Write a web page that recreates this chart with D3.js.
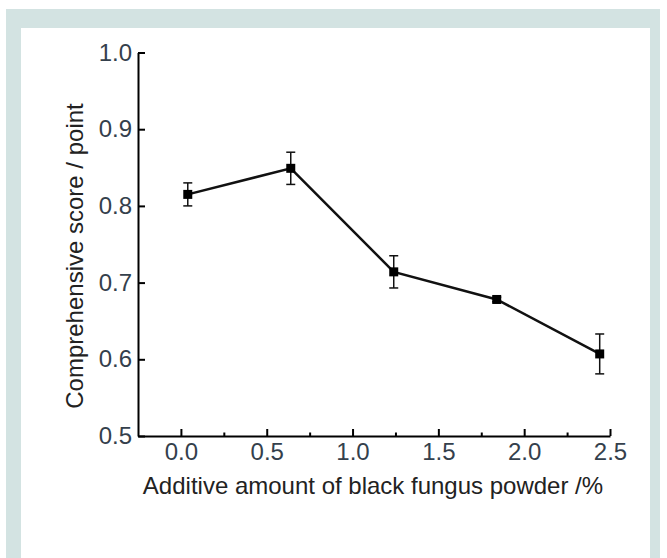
<!DOCTYPE html>
<html>
<head>
<meta charset="utf-8">
<script src="https://cdn.jsdelivr.net/npm/d3@7"></script>
<style>
  body { margin: 0; background: #fff; }
  svg { display: block; font-family: "Liberation Sans", Arial, sans-serif; }
  .tick text { font-size: 24px; fill: #34404c; }
  .axis-label { font-size: 24px; fill: #222; }
</style>
</head>
<body>
<svg id="chart" width="667" height="558"></svg>
<script>
// DATA: additive amount (%) vs comprehensive score, with error bars
const amounts = [0.04, 0.64, 1.24, 1.84, 2.44];
const scores = [0.815, 0.849, 0.714, 0.678, 0.607];
const errors = [0.015, 0.021, 0.021, 0.003, 0.026];
const xMajorTicks = [0, 0.5, 1.0, 1.5, 2.0, 2.5];
const xMinorTicks = [0.25, 0.75, 1.25, 1.75, 2.25];
const yTicks = [0.5, 0.6, 0.7, 0.8, 0.9, 1.0];

const svg = d3.select("#chart");

// 1: FRAME (grey border panel with white inside)
svg.append("rect")
    .attr("x", 6).attr("y", 9)
    .attr("width", 654).attr("height", 549)
    .attr("fill", "#d3e3e2");
svg.append("rect")
    .attr("x", 21).attr("y", 28)
    .attr("width", 629).attr("height", 530)
    .attr("fill", "#fff");

const points = amounts.map((a, i) => ({ x: a, y: scores[i], e: errors[i] }));

// 2: SCALES
const x = d3.scaleLinear().domain([-0.25, 2.5]).range([138, 610]);
const y = d3.scaleLinear().domain([0.5, 1.0]).range([436, 52.5]);

// 3: AXES
svg.append("g")
    .attr("transform", "translate(0,436)")
    .call(d3.axisBottom(x)
        .tickValues(xMajorTicks)
        .tickFormat(d3.format(".1f"))
        .tickSizeInner(-7)
        .tickSizeOuter(0)
        .tickPadding(7));

svg.append("g")
    .attr("transform", "translate(0,436)")
    .call(d3.axisBottom(x)
        .tickValues(xMinorTicks)
        .tickFormat("")
        .tickSizeInner(-3.5)
        .tickSizeOuter(0))
    .select(".domain").remove();

svg.append("g")
    .attr("transform", "translate(138,0)")
    .call(d3.axisLeft(y)
        .tickValues(yTicks)
        .tickFormat(d3.format(".1f"))
        .tickSizeInner(-7)
        .tickSizeOuter(0)
        .tickPadding(6));

svg.selectAll(".domain").attr("stroke", "#000").attr("stroke-width", 2);
svg.selectAll(".tick line").attr("stroke", "#000").attr("stroke-width", 2);

// 4: LINE
const line = d3.line()
    .x(d => x(d.x))
    .y(d => y(d.y));

svg.append("path")
    .datum(points)
    .attr("d", line)
    .attr("fill", "none")
    .attr("stroke", "#111")
    .attr("stroke-width", 2.5);

// 5: ERROR BARS
const eb = svg.append("g")
    .attr("stroke", "#111")
    .attr("stroke-width", 1.5);

eb.selectAll(".stem")
    .data(points)
    .join("line")
    .attr("x1", d => x(d.x)).attr("x2", d => x(d.x))
    .attr("y1", d => y(d.y + d.e)).attr("y2", d => y(d.y - d.e));

eb.selectAll(".cap-top")
    .data(points)
    .join("line")
    .attr("x1", d => x(d.x) - 4.5).attr("x2", d => x(d.x) + 4.5)
    .attr("y1", d => y(d.y + d.e)).attr("y2", d => y(d.y + d.e));

eb.selectAll(".cap-bot")
    .data(points)
    .join("line")
    .attr("x1", d => x(d.x) - 4.5).attr("x2", d => x(d.x) + 4.5)
    .attr("y1", d => y(d.y - d.e)).attr("y2", d => y(d.y - d.e));

// 6: MARKERS
svg.selectAll(".marker")
    .data(points)
    .join("rect")
    .attr("x", d => x(d.x) - 4.5)
    .attr("y", d => y(d.y) - 4.5)
    .attr("width", 9)
    .attr("height", 9)
    .attr("fill", "#000");

// 7: AXIS LABELS
svg.append("text")
    .attr("class", "axis-label")
    .attr("text-anchor", "middle")
    .attr("x", 373)
    .attr("y", 494)
    .text("Additive amount of black fungus powder /%");

svg.append("text")
    .attr("class", "axis-label")
    .attr("text-anchor", "middle")
    .attr("transform", "translate(83,256) rotate(-90)")
    .text("Comprehensive score / point");
</script>
</body>
</html>
